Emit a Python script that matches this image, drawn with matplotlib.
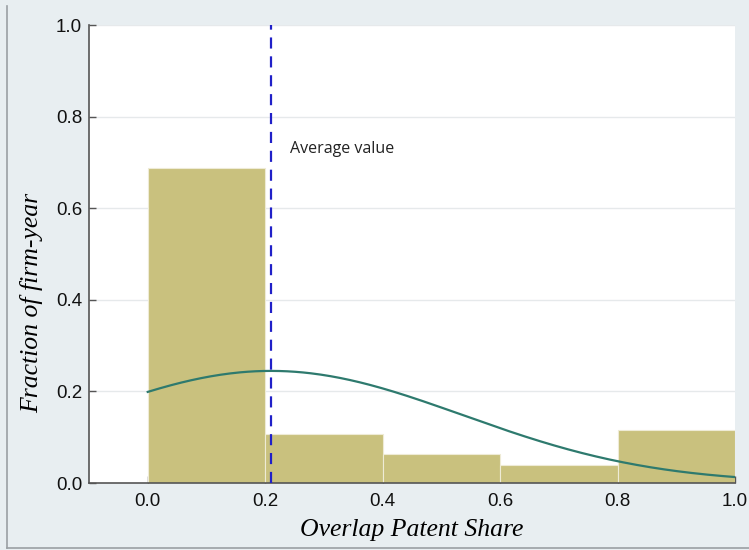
import numpy as np
import matplotlib
matplotlib.use("Agg")
import matplotlib.pyplot as plt
from matplotlib.lines import Line2D

# Data
bin_edges = [0.0, 0.2, 0.4, 0.6, 0.8, 1.0]
fractions = [0.688, 0.107, 0.063, 0.039, 0.116]
mean_value = 0.21
sd_value = 0.326
bin_width = 0.2
x_ticks = [0.0, 0.2, 0.4, 0.6, 0.8, 1.0]
y_ticks = [0.0, 0.2, 0.4, 0.6, 0.8, 1.0]

bg = '#E8EEF1'
fig = plt.figure(figsize=(7.49, 5.50), dpi=100, facecolor=bg)
ax = fig.add_axes([89/749, 1-483/550, (735-89)/749, (483-25)/550])
ax.set_facecolor('white')

# gridlines
for yt in y_ticks[1:]:
    ax.axhline(yt, color='#E6E9EB', lw=1.0, zorder=0)

lefts = bin_edges[:-1]
widths = np.diff(bin_edges)
ax.bar(lefts, fractions, width=widths, align='edge', color='#C9C17E',
       edgecolor='#EEEBD6', linewidth=0.8, zorder=2)

xs = np.linspace(0.0, 1.0, 300)
dens = bin_width * np.exp(-(xs - mean_value)**2 / (2 * sd_value**2)) / (sd_value * np.sqrt(2*np.pi))
ax.plot(xs, dens, color='#2E7A6E', lw=1.6, zorder=3)

ax.axvline(mean_value, color='#2020C8', lw=1.6, ls=(0, (5, 3.5)), zorder=4)
ax.text(0.242, 0.73, 'Average value', fontsize=11.5, family='Open Sans',
        color='#222222', va='center', ha='left')

ax.set_xlim(-0.1, 1.0)
ax.set_ylim(0, 1.0)
ax.set_xticks(x_ticks)
ax.set_xticklabels([f'{v:.1f}' for v in x_ticks])
ax.set_yticks(y_ticks)
ax.set_yticklabels([f'{v:.1f}' for v in y_ticks])
ax.tick_params(axis='both', direction='in', length=5, width=1, color='#555555',
               labelsize=13.5, labelcolor='#111111')
ax.tick_params(axis='x', pad=7)
ax.tick_params(axis='y', pad=5)
for lab in ax.get_xticklabels() + ax.get_yticklabels():
    lab.set_family('Liberation Sans')
for s in ['top', 'right']:
    ax.spines[s].set_visible(False)
for s in ['left', 'bottom']:
    ax.spines[s].set_color('#555555')
    ax.spines[s].set_linewidth(1.2)

ax.set_xlabel('Overlap Patent Share', family='Liberation Serif', style='italic',
              fontsize=18.5, labelpad=7)
ax.set_ylabel('Fraction of firm-year', family='Liberation Serif', style='italic',
              fontsize=18.5, labelpad=10)
ax.yaxis.set_label_coords(-0.071, 0.393)

fig.add_artist(Line2D([7/749, 7/749], [0.003, 0.99], transform=fig.transFigure,
                      color='#9A9FA3', lw=1.2))
fig.add_artist(Line2D([7/749, 1.0], [1-548/550, 1-548/550], transform=fig.transFigure,
                      color='#9A9FA3', lw=1.2))

fig.savefig('out.png', dpi=100, facecolor=bg)
